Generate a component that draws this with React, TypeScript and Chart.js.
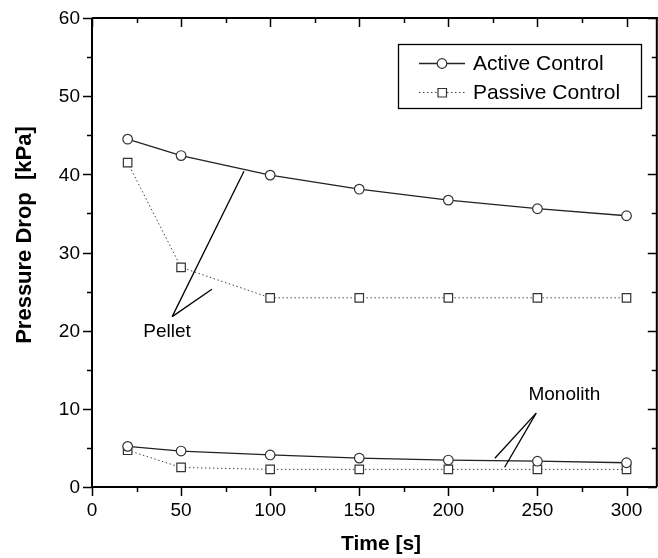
import React, { useEffect, useRef } from "react";
import { Chart, registerables } from "chart.js";

Chart.register(...registerables);

const times = [20, 50, 100, 150, 200, 250, 300];
const activePellet = [44.5, 42.4, 39.9, 38.1, 36.7, 35.6, 34.7];
const passivePellet = [41.5, 28.1, 24.2, 24.2, 24.2, 24.2, 24.2];
const activeMonolith = [5.2, 4.6, 4.1, 3.7, 3.45, 3.3, 3.1];
const passiveMonolith = [4.7, 2.5, 2.25, 2.25, 2.25, 2.25, 2.25];

const xMajorTicks = [0, 50, 100, 150, 200, 250, 300];
const xMinorTicks = [25, 75, 125, 175, 225, 275];
const yMajorTicks = [0, 10, 20, 30, 40, 50, 60];
const yMinorTicks = [5, 15, 25, 35, 45, 55];

const xTitle = "Time [s]";
const yTitle = "Pressure Drop  [kPa]";
const legendLabels = ["Active Control", "Passive Control"];

// annotations in data units
const pelletLabel = { text: "Pellet", x: 42.1, y: 19.9 };
const pelletLines = [
  [[45.0, 21.8], [85.3, 40.4]],
  [[45.0, 21.8], [67.3, 25.3]],
];
const monolithLabel = { text: "Monolith", x: 265.1, y: 11.8 };
const monolithLines = [
  [[249.3, 9.45], [226.1, 3.68]],
  [[249.3, 9.45], [231.6, 2.53]],
];

const CW = 664;
const CH = 558;
const FONT = "'Liberation Sans', Arial, sans-serif";

const toXY = (xs: number[], ys: number[]) => xs.map((x, i) => ({ x, y: ys[i] }));

const activeStyle = {
  borderColor: "#222",
  borderWidth: 1.3,
  pointStyle: "circle",
  pointRadius: 4.8,
  pointBackgroundColor: "#fff",
  pointBorderColor: "#333",
  pointBorderWidth: 1.2,
  tension: 0,
  fill: false,
};
const passiveStyle = {
  borderColor: "#444",
  borderWidth: 1,
  borderDash: [1.5, 2.5],
  pointStyle: "rect",
  pointRadius: 6,
  pointBackgroundColor: "#fff",
  pointBorderColor: "#333",
  pointBorderWidth: 1.2,
  tension: 0,
  fill: false,
};

const framePlugin = {
  id: "frame",
  afterDatasetsDraw(chart: any) {
    const ctx = chart.ctx;
    const { left, right, top, bottom } = chart.chartArea;
    const xs = chart.scales.x;
    const ys = chart.scales.y;
    ctx.save();
    ctx.strokeStyle = "#000";
    ctx.fillStyle = "#000";
    ctx.lineWidth = 2;
    ctx.beginPath();
    ctx.moveTo(left, top);
    ctx.lineTo(left, bottom);
    ctx.lineTo(right, bottom);
    ctx.moveTo(left, top);
    ctx.lineTo(CW, top);
    ctx.moveTo(right, top);
    ctx.lineTo(right, bottom);
    ctx.stroke();

    ctx.lineWidth = 1.5;
    const tick = (x1: number, y1: number, x2: number, y2: number) => {
      ctx.beginPath();
      ctx.moveTo(x1, y1);
      ctx.lineTo(x2, y2);
      ctx.stroke();
    };
    xMajorTicks.forEach((v) => {
      const px = Math.round(xs.getPixelForValue(v)) + 0.5;
      tick(px, bottom, px, bottom + 9);
      tick(px, top, px, top + 9);
    });
    xMinorTicks.forEach((v) => {
      const px = Math.round(xs.getPixelForValue(v)) + 0.5;
      tick(px, bottom, px, bottom + 5);
      tick(px, top, px, top + 5);
    });
    yMajorTicks.forEach((v) => {
      const py = Math.round(ys.getPixelForValue(v)) + 0.5;
      tick(left - 9, py, left, py);
      tick(right - 9, py, right, py);
    });
    yMinorTicks.forEach((v) => {
      const py = Math.round(ys.getPixelForValue(v)) + 0.5;
      tick(left - 5, py, left, py);
      tick(right - 5, py, right, py);
    });

    ctx.font = "19px " + FONT;
    ctx.textAlign = "center";
    ctx.textBaseline = "middle";
    xMajorTicks.forEach((v) => {
      ctx.fillText(String(v), xs.getPixelForValue(v), bottom + 24);
    });
    ctx.textAlign = "right";
    yMajorTicks.forEach((v) => {
      ctx.fillText(String(v), left - 12, ys.getPixelForValue(v) + 1);
    });

    ctx.font = "bold 21px " + FONT;
    ctx.textAlign = "center";
    ctx.textBaseline = "middle";
    ctx.fillText(xTitle, 381, 544);
    ctx.save();
    ctx.translate(25, 235);
    ctx.rotate(-Math.PI / 2);
    ctx.font = "bold 22px " + FONT;
    ctx.fillText(yTitle, 0, 0);
    ctx.restore();

    // annotations
    ctx.lineWidth = 1.3;
    ctx.strokeStyle = "#000";
    [...pelletLines, ...monolithLines].forEach((seg) => {
      ctx.beginPath();
      ctx.moveTo(xs.getPixelForValue(seg[0][0]), ys.getPixelForValue(seg[0][1]));
      ctx.lineTo(xs.getPixelForValue(seg[1][0]), ys.getPixelForValue(seg[1][1]));
      ctx.stroke();
    });
    ctx.font = "19px " + FONT;
    ctx.textAlign = "center";
    ctx.textBaseline = "middle";
    [pelletLabel, monolithLabel].forEach((l) => {
      ctx.fillText(l.text, xs.getPixelForValue(l.x), ys.getPixelForValue(l.y));
    });

    // legend
    const bx = 398, by = 44, bw = 243, bh = 64;
    ctx.fillStyle = "#fff";
    ctx.fillRect(bx, by, bw, bh);
    ctx.lineWidth = 1.3;
    ctx.strokeStyle = "#000";
    ctx.strokeRect(bx + 0.5, by + 0.5, bw, bh);
    const rows = [63, 92];
    rows.forEach((ry, i) => {
      ctx.strokeStyle = i === 0 ? "#222" : "#444";
      ctx.lineWidth = i === 0 ? 1.3 : 1;
      ctx.setLineDash(i === 0 ? [] : [1.5, 2.5]);
      ctx.beginPath();
      ctx.moveTo(419, ry + 0.5);
      ctx.lineTo(465, ry + 0.5);
      ctx.stroke();
      ctx.setLineDash([]);
      ctx.fillStyle = "#fff";
      ctx.strokeStyle = "#333";
      ctx.lineWidth = 1.2;
      ctx.beginPath();
      if (i === 0) {
        ctx.arc(442, ry + 0.5, 4.8, 0, Math.PI * 2);
      } else {
        ctx.rect(438, ry - 3.5, 8.5, 8.5);
      }
      ctx.fill();
      ctx.stroke();
      ctx.fillStyle = "#000";
      ctx.font = "21px " + FONT;
      ctx.textAlign = "left";
      ctx.textBaseline = "middle";
      ctx.fillText(legendLabels[i], 473, ry + 1);
    });
    ctx.restore();
  },
};

export default function App() {
  const ref = useRef<HTMLCanvasElement | null>(null);
  useEffect(() => {
    if (!ref.current) return;
    const chart = new Chart(ref.current, {
      type: "line",
      data: {
        datasets: [
          { label: legendLabels[0], data: toXY(times, activePellet), ...activeStyle },
          { label: legendLabels[1], data: toXY(times, passivePellet), ...passiveStyle },
          { label: legendLabels[0] + " (monolith)", data: toXY(times, activeMonolith), ...activeStyle },
          { label: legendLabels[1] + " (monolith)", data: toXY(times, passiveMonolith), ...passiveStyle },
        ] as any,
      },
      options: {
        responsive: false,
        animation: false,
        devicePixelRatio: 1,
        layout: { padding: { left: 92, top: 18, right: CW - 661, bottom: CH - 487 } },
        scales: {
          x: { type: "linear", min: 0, max: 317, display: false },
          y: { type: "linear", min: 0, max: 60, display: false },
        },
        plugins: { legend: { display: false }, tooltip: { enabled: false } },
        elements: { line: { borderCapStyle: "butt" } },
      } as any,
      plugins: [framePlugin],
    });
    return () => chart.destroy();
  }, []);
  return (
    <div style={{ position: "absolute", left: 0, top: 0, width: 658, height: 558, overflow: "hidden", background: "#fff" }}>
      <canvas ref={ref} width={CW} height={CH} style={{ width: CW, height: CH, display: "block" }} />
    </div>
  );
}
